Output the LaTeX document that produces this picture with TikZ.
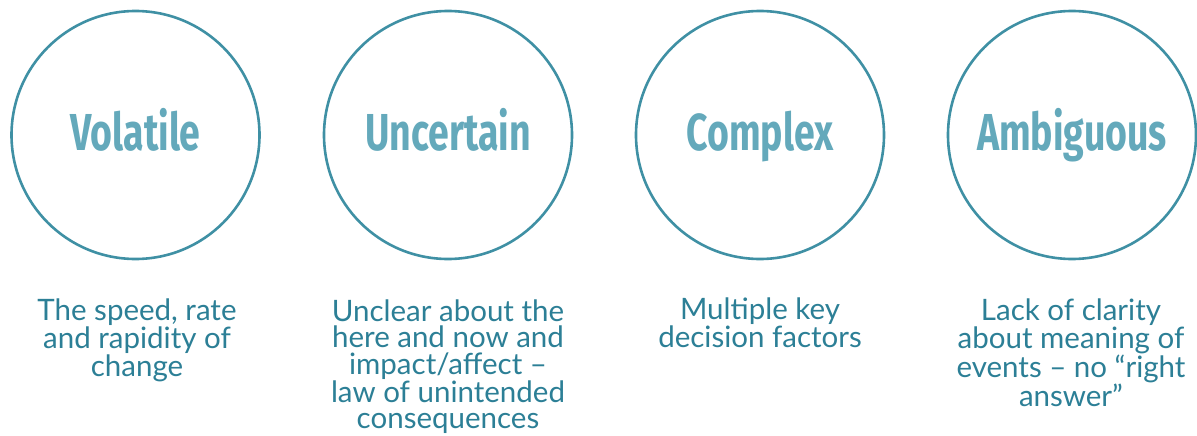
\documentclass[tikz,border=0pt]{standalone}
\usepackage{fontspec}
\setmainfont{Lato}
\newfontfamily\titlefont[FakeStretch=0.72]{Fira Sans}
\definecolor{ringcol}{HTML}{3F90A4}
\definecolor{titlecol}{HTML}{64A9BB}
\definecolor{capcol}{HTML}{2C7F96}
\begin{document}
\begin{tikzpicture}[x=1pt,y=-1pt,
  ringnode/.style={circle,draw=ringcol,line width=2.6pt,minimum size=248pt,inner sep=0pt},
  ttl/.style={font=\titlefont\bfseries\fontsize{52}{52}\selectfont,text=titlecol,anchor=base},
  captext/.style={font=\fontsize{29.5}{26.5}\selectfont,text=capcol,align=center,anchor=north,inner sep=0pt}]
\useasboundingbox (0,0) rectangle (1197,436);
\foreach \n/\x/\t in {a/135.5/Volatile,b/448/Uncertain,c/760/Complex,d/1072/Ambiguous}{
  \node[ringnode] (c\n) at (\x,135) {};
  \node[ttl] (t\n) at (\x,150) {\t};
}
\node[captext] (p1) at (137,298.5) {The speed, rate\\and rapidity of\\change};
\node[captext] (p2) at (448,299.5) {Unclear about the\\here and now and\\impact/affect –\\law of unintended\\consequences};
\node[captext] (p3) at (760,298) {Multiple key\\decision factors};
\node[captext] (p4) at (1071,298.5) {Lack of clarity\\about meaning of\\events – no “right\\answer”};
\end{tikzpicture}
\end{document}
